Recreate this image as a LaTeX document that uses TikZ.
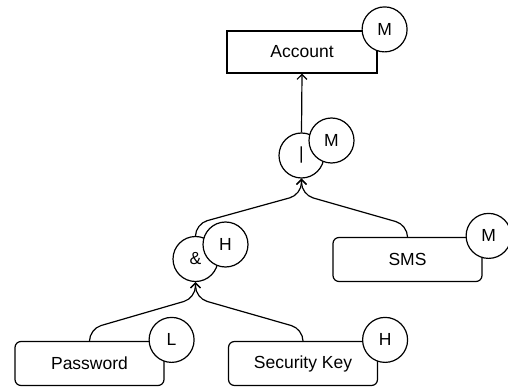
\documentclass[tikz,border=0pt]{standalone}
\usepackage{fontspec}
\setmainfont{Liberation Sans}
\usetikzlibrary{positioning}
\usetikzlibrary{calc}
\usetikzlibrary{arrows.meta}

\begin{document}
\begin{tikzpicture}[x=1pt,y=-1pt,line width=1.2pt,
        font=\fontsize{17.5}{21}\selectfont,
        goal/.style={draw,shape=rectangle,minimum width=150pt,minimum height=42pt,inner sep=0pt},
        leaf/.style={draw,shape=rectangle,rounded corners=6pt,minimum width=149pt,minimum height=44pt,inner sep=0pt},
        gate/.style={draw,shape=circle,fill=white,minimum size=45pt,inner sep=0pt},
        risk/.style={draw,shape=circle,fill=white,minimum size=45pt,inner sep=0pt},
        link/.style={rounded corners=12pt,-{Straight Barb[length=5pt,width=10pt]}}]
        \useasboundingbox (0,0) rectangle (508,387);

        \node[goal] (account) at (302,52) {Account};
        \node[gate] (orgate) at (301.5,155.5) {|};
        \node[gate] (andgate) at (195.5,259) {\&};
        \node[leaf] (sms) at (407.5,259.5) {SMS};
        \node[leaf] (password) at (89.5,363.5) {Password};
        \node[leaf] (seckey) at (303,363.5) {Security Key};

        \draw[link] (password.north) -- ++(0,-12) -- ($(andgate.south)+(0,16)$) -- (andgate.south);
        \draw[link] (seckey.north) -- ++(0,-12) -- ($(andgate.south)+(0,16)$) -- (andgate.south);
        \draw[link] (andgate.north) -- ++(0,-12) -- ($(orgate.south)+(0,16)$) -- (orgate.south);
        \draw[link] (sms.north) -- ++(0,-12) -- ($(orgate.south)+(0,16)$) -- (orgate.south);
        \draw[link] (orgate.north) -- (account.south);

        \node[risk] (accountrisk) at ($(account.north east)+(7,-1)$) {M};
        \node[risk] (orrisk) at ($(orgate)+(30,-15)$) {M};
        \node[risk] (andrisk) at ($(andgate)+(30,-14.5)$) {H};
        \node[risk] (smsrisk) at ($(sms.north east)+(6,-1)$) {M};
        \node[risk] (passwordrisk) at ($(password.north east)+(7,-1)$) {L};
        \node[risk] (seckeyrisk) at ($(seckey.north east)+(7,-1)$) {H};
\end{tikzpicture}
\end{document}
